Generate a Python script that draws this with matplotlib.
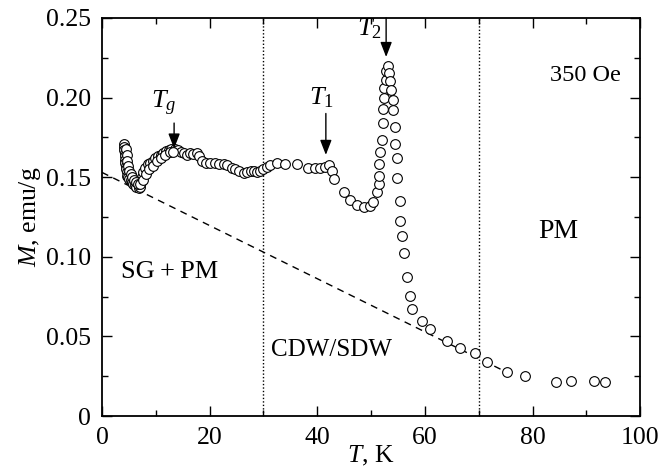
import matplotlib
matplotlib.use("Agg")
import matplotlib.pyplot as plt
from matplotlib.ticker import MultipleLocator, FuncFormatter

plt.rcParams["font.family"] = ["Liberation Serif", "DejaVu Serif"]
plt.rcParams["mathtext.fontset"] = "custom"
plt.rcParams["mathtext.rm"] = "Liberation Serif"
plt.rcParams["mathtext.it"] = "Liberation Serif:italic"

# magnetization M(T) at 350 Oe
T = [4.0, 4.1, 4.1, 4.2, 4.2, 4.3, 4.3, 4.4, 4.5, 4.6, 4.7, 4.9, 5.1, 5.3, 5.5,
     5.8, 6.1, 6.4, 6.8, 7.1, 7.3, 7.5, 7.7, 8.0, 8.5, 8.9, 9.4, 9.9, 10.4,
     10.9, 11.4, 11.9, 12.4, 12.9, 13.5, 14.1, 14.7, 15.3, 15.8, 16.4, 17.0,
     17.6, 18.1, 18.6, 19.3, 20.1, 21.0, 21.8, 22.6, 23.3, 24.1, 24.8, 25.5,
     26.3, 27.0, 27.6, 28.2, 28.8, 29.4, 30.0, 30.6, 31.3, 32.5, 34.1, 36.3,
     38.3, 39.6, 40.5, 41.4, 42.1, 42.7, 43.1, 44.9, 46.1, 47.3, 48.6, 49.8,
     50.4, 51.1, 51.4, 51.4, 51.5, 51.7, 52.0, 52.2, 52.3, 52.4, 52.4, 52.8,
     52.8, 53.2, 53.4, 53.5, 53.7, 54.0, 54.0, 54.4, 54.5, 54.8, 54.8, 55.3,
     55.4, 55.7, 56.1, 56.6, 57.2, 57.7, 59.4, 61.0, 64.1, 66.5, 69.3, 71.6,
     75.3, 78.6, 84.4, 87.1, 91.4, 93.5,
     4.5, 4.6, 4.7, 4.8, 5.0, 5.3, 5.6, 6.0, 6.3, 6.6, 7.0, 7.6, 8.2, 8.8,
     9.5, 10.2, 11.0, 11.8, 12.6, 13.2]
M = [0.171, 0.169, 0.167, 0.165, 0.163, 0.161, 0.159, 0.157, 0.155, 0.153,
     0.151, 0.150, 0.149, 0.148, 0.147, 0.146, 0.145, 0.144, 0.1435, 0.144,
     0.147, 0.150, 0.153, 0.156, 0.158, 0.159, 0.160, 0.162, 0.163, 0.164,
     0.165, 0.1665, 0.167, 0.168, 0.168, 0.167, 0.166, 0.165, 0.164, 0.165,
     0.1645, 0.165, 0.163, 0.160, 0.159, 0.1587, 0.1587, 0.1585, 0.158,
     0.1575, 0.156, 0.155, 0.154, 0.1525, 0.153, 0.154, 0.154, 0.1535, 0.154,
     0.155, 0.1565, 0.1577, 0.1587, 0.1583, 0.1583, 0.156, 0.156, 0.156,
     0.1566, 0.1575, 0.154, 0.149, 0.141, 0.1357, 0.1325, 0.1312, 0.1319,
     0.1346, 0.141, 0.146, 0.151, 0.158, 0.166, 0.1734, 0.184, 0.1926,
     0.1995, 0.2058, 0.211, 0.217, 0.2198, 0.2153, 0.2106, 0.205, 0.1985,
     0.1922, 0.1813, 0.1709, 0.1619, 0.1493, 0.1352, 0.1227, 0.113, 0.1026,
     0.0875, 0.0754, 0.0672, 0.0597, 0.0546, 0.0473, 0.0425, 0.0394, 0.0337,
     0.0276, 0.0251, 0.0212, 0.022, 0.022, 0.0212,
     0.168, 0.164, 0.160, 0.157, 0.154, 0.152, 0.150, 0.148, 0.147, 0.146,
     0.146, 0.148, 0.152, 0.155, 0.157, 0.160, 0.162, 0.164, 0.166, 0.166]

# paramagnetic background (dashed line)
bg_T = [0.0, 75.5]
bg_M = [0.153, 0.027]

# phase boundaries
boundaries = [30, 70]

fs = 18.5

fig = plt.figure(figsize=(6.71, 4.73), dpi=100)
ax = fig.add_axes([0.152, 0.1205, 0.802, 0.8415])

ax.plot(T, M, linestyle="none", marker="o", markersize=7,
        markerfacecolor="white", markeredgecolor="black",
        markeredgewidth=0.8, zorder=3)
ax.plot(bg_T, bg_M, linestyle=(0, (5, 4)), color="black", linewidth=1.0)
for b in boundaries:
    ax.axvline(b, color="black", linestyle=(0, (1, 1.5)), linewidth=1.0)

ax.set_xlim(0, 100)
ax.set_ylim(0, 0.25)
ax.xaxis.set_major_locator(MultipleLocator(20))
ax.xaxis.set_minor_locator(MultipleLocator(10))
ax.yaxis.set_major_locator(MultipleLocator(0.05))
ax.yaxis.set_minor_locator(MultipleLocator(0.025))
ax.xaxis.set_major_formatter(FuncFormatter(lambda v, p: "%d" % round(v)))
ax.yaxis.set_major_formatter(
    FuncFormatter(lambda v, p: "0" if abs(v) < 1e-9 else "%.2f" % v))
ax.tick_params(which="both", direction="in", top=True, right=True,
               labelsize=fs, width=1.0)
ax.tick_params(which="major", length=7, pad=8)
ax.tick_params(which="minor", length=4)
for s in ax.spines.values():
    s.set_linewidth(1.3)

ax.set_xlabel(r"$T$, K", fontsize=fs, labelpad=-4)
ax.set_ylabel(r"$M$, emu/g", fontsize=fs, labelpad=2)

arrow = dict(arrowstyle="-|>,head_length=0.9,head_width=0.35",
             color="black", lw=1.0, shrinkA=0, shrinkB=0)
ax.annotate("", xy=(13.4, 0.168), xytext=(13.4, 0.184), arrowprops=arrow)
ax.annotate("", xy=(41.6, 0.164), xytext=(41.6, 0.190), arrowprops=arrow)
ax.annotate("", xy=(52.8, 0.2255), xytext=(52.8, 0.25), arrowprops=arrow)
ax.text(11.5, 0.196, r"$T_g$", fontsize=19, ha="center", va="center")
ax.text(40.8, 0.200, r"$T_1$", fontsize=19, ha="center", va="center")
ax.text(49.6, 0.2435, r"$T_2$", fontsize=19, ha="center", va="center")

ax.text(89.8, 0.214, "350 Oe", fontsize=17.5, ha="center", va="center")
ax.text(12.6, 0.0905, "SG\u2009+\u2009PM", fontsize=19, ha="center",
        va="center")
ax.text(84.8, 0.116, "PM", fontsize=20, ha="center", va="center")
ax.text(42.6, 0.0415, "CDW/SDW", fontsize=18, ha="center", va="center")

fig.savefig("out.png", dpi=100)
